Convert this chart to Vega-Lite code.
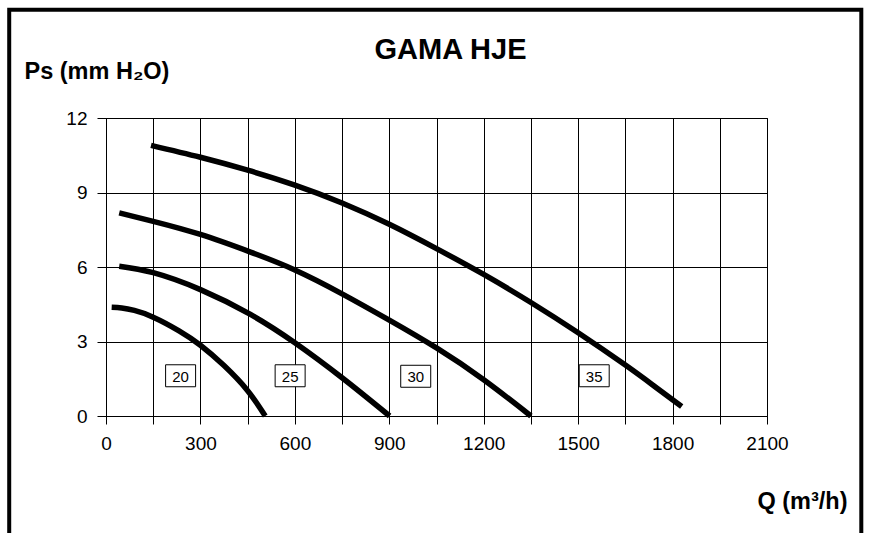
{
  "$schema": "https://vega.github.io/schema/vega-lite/v6.json",
  "width": 661,
  "height": 298,
  "autosize": {"type": "none"},
  "padding": {"left": 106, "top": 118, "right": 102, "bottom": 117},
  "background": "white",
  "title": {"text": "GAMA HJE", "font": "Liberation Sans", "fontSize": 29, "fontWeight": "bold", "color": "black", "anchor": "middle", "frame": "group", "dx": 14, "offset": 0, "dy": 80, "baseline": "alphabetic"},
  "config": {"view": {"stroke": "black", "strokeWidth": 1}, "font": "Liberation Sans"},
  "datasets": {
    "curves": [
      {"curve": "20", "q": 18, "ps": 4.38}, {"curve": "20", "q": 50, "ps": 4.35}, {"curve": "20", "q": 90, "ps": 4.25}, {"curve": "20", "q": 150, "ps": 3.98}, {"curve": "20", "q": 232, "ps": 3.43}, {"curve": "20", "q": 300, "ps": 2.85}, {"curve": "20", "q": 374, "ps": 2.04}, {"curve": "20", "q": 450, "ps": 1.02}, {"curve": "20", "q": 506, "ps": 0},
      {"curve": "25", "q": 42, "ps": 6.03}, {"curve": "25", "q": 150, "ps": 5.77}, {"curve": "25", "q": 300, "ps": 5.09}, {"curve": "25", "q": 459, "ps": 4.09}, {"curve": "25", "q": 600, "ps": 2.95}, {"curve": "25", "q": 750, "ps": 1.54}, {"curve": "25", "q": 901, "ps": 0},
      {"curve": "30", "q": 42, "ps": 8.18}, {"curve": "30", "q": 150, "ps": 7.84}, {"curve": "30", "q": 300, "ps": 7.31}, {"curve": "30", "q": 459, "ps": 6.6}, {"curve": "30", "q": 600, "ps": 5.88}, {"curve": "30", "q": 750, "ps": 4.92}, {"curve": "30", "q": 900, "ps": 3.86}, {"curve": "30", "q": 1050, "ps": 2.74}, {"curve": "30", "q": 1200, "ps": 1.46}, {"curve": "30", "q": 1350, "ps": 0},
      {"curve": "35", "q": 143, "ps": 10.9}, {"curve": "35", "q": 300, "ps": 10.42}, {"curve": "35", "q": 450, "ps": 9.9}, {"curve": "35", "q": 600, "ps": 9.3}, {"curve": "35", "q": 750, "ps": 8.58}, {"curve": "35", "q": 900, "ps": 7.72}, {"curve": "35", "q": 1050, "ps": 6.74}, {"curve": "35", "q": 1200, "ps": 5.7}, {"curve": "35", "q": 1350, "ps": 4.57}, {"curve": "35", "q": 1500, "ps": 3.35}, {"curve": "35", "q": 1650, "ps": 2.05}, {"curve": "35", "q": 1740, "ps": 1.22}, {"curve": "35", "q": 1829, "ps": 0.38}
    ],
    "labels": [
      {"label": "20", "q": 237, "ps": 1.62},
      {"label": "25", "q": 585, "ps": 1.62},
      {"label": "30", "q": 984, "ps": 1.6},
      {"label": "35", "q": 1551, "ps": 1.62}
    ],
    "frame": [
      {"q": -307.5, "q2": 2399.6, "ps": 16.36, "ps2": -8}
    ]
  },
  "layer": [
    {
      "data": {"name": "curves"},
      "mark": {"type": "line", "color": "black", "strokeWidth": 5.5, "interpolate": "natural", "clip": false},
      "encoding": {
        "x": {"field": "q", "type": "quantitative",
          "scale": {"domain": [0, 2100], "nice": false, "zero": false},
          "axis": {"values": [0,150,300,450,600,750,900,1050,1200,1350,1500,1650,1800,1950,2100], "format": "d",
            "labelExpr": "datum.value % 300 === 0 ? datum.label : ''",
            "grid": true, "gridColor": "black", "gridOpacity": 1, "gridWidth": 1,
            "domainColor": "black", "tickColor": "black", "tickSize": 8, "labelPadding": 10,
            "labelFont": "Liberation Sans", "labelFontSize": 19, "labelColor": "black", "labelFlush": false, "labelOverlap": false,
            "title": "Q (m³/h)", "titleFont": "Liberation Sans", "titleFontSize": 23.5, "titleFontWeight": "bold", "titleColor": "black",
            "titleAlign": "right", "titleBaseline": "alphabetic", "titleX": 741, "titleY": 92}},
        "y": {"field": "ps", "type": "quantitative",
          "scale": {"domain": [0, 12], "nice": false, "zero": false},
          "axis": {"values": [0,1.5,3,4.5,6,7.5,9,10.5,12], "format": "d",
            "labelExpr": "datum.value % 3 === 0 ? datum.label : ''",
            "grid": true, "gridColor": "black", "gridOpacity": 1, "gridWidth": 1,
            "domainColor": "black", "tickColor": "black", "tickSize": 9, "labelPadding": 10,
            "labelFont": "Liberation Sans", "labelFontSize": 19, "labelColor": "black", "labelFlush": false, "labelOverlap": false,
            "title": "Ps (mm H₂O)", "titleFont": "Liberation Sans", "titleFontSize": 23.5, "titleFontWeight": "bold", "titleColor": "black",
            "titleAngle": 0, "titleAlign": "left", "titleBaseline": "alphabetic", "titleX": -82, "titleY": -40}},
        "detail": {"field": "curve"}
      }
    },
    {
      "data": {"name": "frame"},
      "mark": {"type": "rect", "fill": null, "fillOpacity": 0, "stroke": "black", "strokeWidth": 4, "clip": false},
      "encoding": {
        "x": {"field": "q", "type": "quantitative"},
        "x2": {"field": "q2"},
        "y": {"field": "ps", "type": "quantitative"},
        "y2": {"field": "ps2"}
      }
    },
    {
      "data": {"name": "labels"},
      "mark": {"type": "point", "shape": "M-1,-0.733L1,-0.733L1,0.733L-1,0.733Z", "size": 900, "filled": true, "fill": "white", "stroke": "black", "strokeWidth": 1, "opacity": 1},
      "encoding": {
        "x": {"field": "q", "type": "quantitative"},
        "y": {"field": "ps", "type": "quantitative"}
      }
    },
    {
      "data": {"name": "labels"},
      "mark": {"type": "text", "font": "Liberation Sans", "fontSize": 15, "color": "black", "align": "center", "baseline": "middle", "dy": 1},
      "encoding": {
        "x": {"field": "q", "type": "quantitative"},
        "y": {"field": "ps", "type": "quantitative"},
        "text": {"field": "label"}
      }
    }
  ]
}
